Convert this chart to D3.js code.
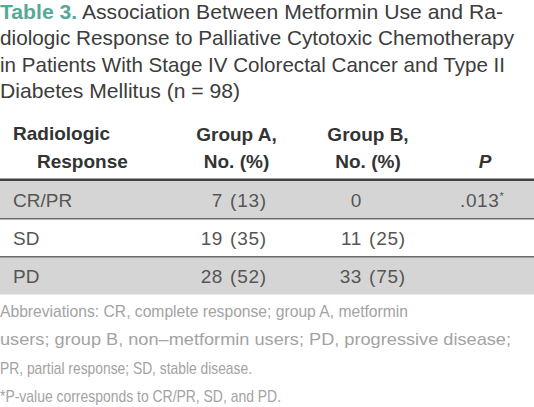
<!DOCTYPE html>
<html><head><meta charset="utf-8">
<script src="https://cdn.jsdelivr.net/npm/d3@7"></script>
<style>html,body{margin:0;padding:0;background:#fff;}</style>
</head><body>
<svg id="c" width="534" height="407"></svg>
<script>
const titleLabel = "Table 3.";
const titleLines = [
  " Association Between Metformin Use and Ra-",
  "diologic Response to Palliative Cytotoxic Chemotherapy",
  "in Patients With Stage IV Colorectal Cancer and Type II",
  "Diabetes Mellitus (n = 98)"
];
const headerCol1 = ["Radiologic", "Response"];
const headerGroupA = ["Group A,", "No. (%)"];
const headerGroupB = ["Group B,", "No. (%)"];
const headerP = "P";
const categories = ["CR/PR", "SD", "PD"];
const groupACount = [7, 19, 28];
const groupAPct = [13, 35, 52];
const groupBCount = [0, 11, 33];
const groupBPct = [null, 25, 75];
const pValues = [".013", "", ""];
const footnotes = [
  "Abbreviations: CR, complete response; group A, metformin",
  "users; group B, non\u2013metformin users; PD, progressive disease;",
  "PR, partial response; SD, stable disease.",
  "*P-value corresponds to CR/PR, SD, and PD."
];

const svg = d3.select("#c");
const W = 534;
const font = "'Liberation Sans', Arial, sans-serif";

// title
const titleW = [503, 514, 505, 240];
const tY = d3.scaleLinear().domain([0, 3]).range([19, 98]);
titleLines.forEach((t, i) => {
  const txt = svg.append("text").attr("x", 0).attr("y", tY(i))
    .attr("font-family", font).attr("font-size", 21).attr("fill", "#3c3c3c")
    .attr("textLength", titleW[i]).attr("lengthAdjust", "spacingAndGlyphs");
  if (i === 0) {
    txt.append("tspan").attr("font-weight", "bold").attr("fill", "#58a897").text(titleLabel);
  }
  txt.append("tspan").text(t);
});

// rows
const y = d3.scaleBand().domain(categories).range([181, 294.5]).paddingInner(0);
const rows = svg.append("g");
categories.forEach((c, i) => {
  if (i % 2 === 0) {
    rows.append("rect").attr("x", 0).attr("width", W)
      .attr("y", y(c)).attr("height", y.bandwidth()).attr("fill", "#d5d5d5");
  }
});
categories.forEach((c, i) => {
  if (i > 0) {
    rows.append("line").attr("x1", 0).attr("x2", W)
      .attr("y1", y(c)).attr("y2", y(c)).attr("stroke", "#6a6a6a").attr("stroke-width", 1.5);
  }
});
// header rule
svg.append("line").attr("x1", 0).attr("x2", W).attr("y1", 179.8).attr("y2", 179.8)
  .attr("stroke", "#444").attr("stroke-width", 2.6);

// header text
const hf = (x, yy, t, anchor, extra) => {
  const e = svg.append("text").attr("x", x).attr("y", yy).attr("text-anchor", anchor || "start")
    .attr("font-family", font).attr("font-size", 19).attr("font-weight", "bold").attr("fill", "#333").text(t);
  if (extra) extra(e);
  return e;
};
hf(13, 140, headerCol1[0]);
hf(37, 168, headerCol1[1]);
hf(236.5, 141, headerGroupA[0], "middle");
hf(236.5, 168, headerGroupA[1], "middle");
hf(368, 141, headerGroupB[0], "middle");
hf(368, 168, headerGroupB[1], "middle");
hf(485, 168, headerP, "middle", e => e.attr("font-style", "italic"));

// body text
const bodyFont = (sel) => sel.attr("font-family", font).attr("font-size", 19).attr("fill", "#555");
categories.forEach((c, i) => {
  const by = y(c) + y.bandwidth() / 2 + 7;
  bodyFont(svg.append("text").attr("x", 13).attr("y", by).text(c));
  bodyFont(svg.append("text").attr("x", 223).attr("y", by).attr("text-anchor", "end").attr("letter-spacing", 0.6).text(groupACount[i]));
  if (groupAPct[i] !== null)
    bodyFont(svg.append("text").attr("x", 230).attr("y", by).attr("letter-spacing", 0.8).text("(" + groupAPct[i] + ")"));
  bodyFont(svg.append("text").attr("x", 362).attr("y", by).attr("text-anchor", "end").attr("letter-spacing", 0.6).text(groupBCount[i]));
  if (groupBPct[i] !== null)
    bodyFont(svg.append("text").attr("x", 369).attr("y", by).attr("letter-spacing", 0.8).text("(" + groupBPct[i] + ")"));
  if (pValues[i]) {
    const pt = bodyFont(svg.append("text").attr("x", 460).attr("y", by).attr("letter-spacing", 0.6));
    pt.append("tspan").text(pValues[i]);
    pt.append("tspan").attr("font-size", 11).attr("dy", -7).text("*");
  }
});

// footnotes
const fnW = [408, 511, 252, 281];
const fY = d3.scaleLinear().domain([0, 3]).range([317, 402]);
footnotes.forEach((t, i) => {
  svg.append("text").attr("x", 0).attr("y", fY(i))
    .attr("font-family", font).attr("font-size", 17).attr("fill", "#a3a3a3")
    .attr("textLength", fnW[i]).attr("lengthAdjust", "spacingAndGlyphs").text(t);
});
</script>
</body></html>
